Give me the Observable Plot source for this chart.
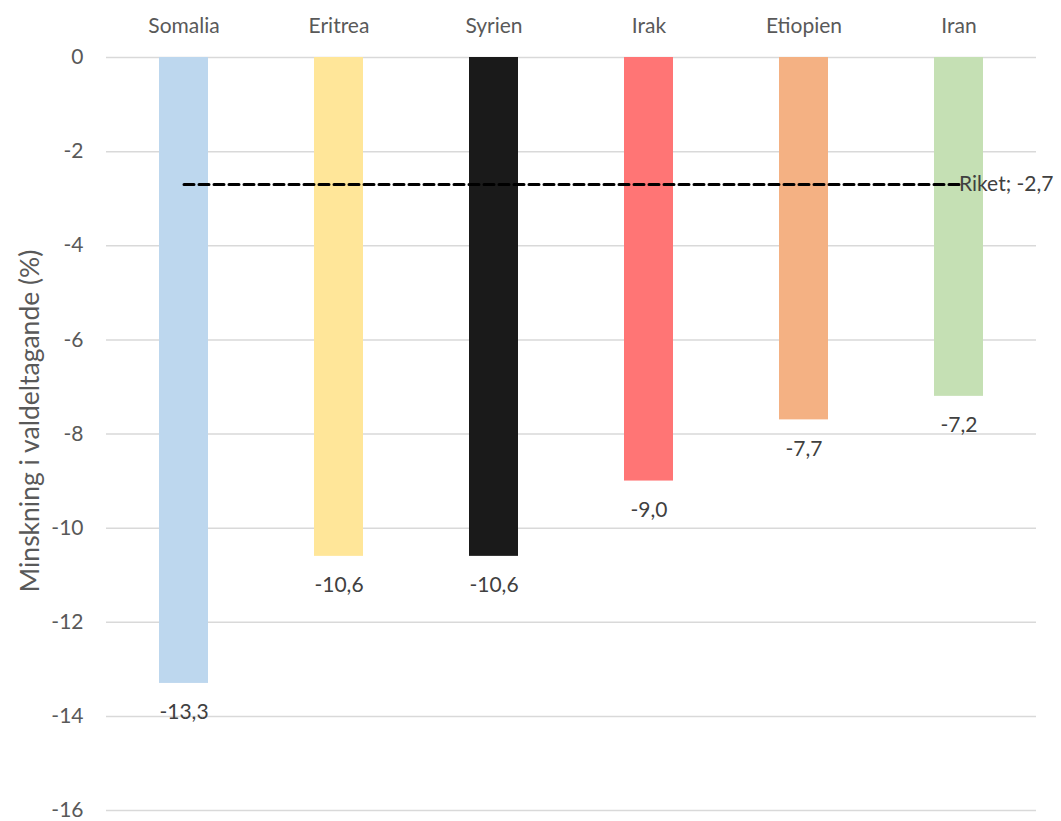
<!DOCTYPE html>
<html>
<head>
<meta charset="utf-8">
<script src="https://cdn.jsdelivr.net/npm/d3@7"></script>
<script src="https://cdn.jsdelivr.net/npm/@observablehq/plot@0.6"></script>
<style>
  html, body { margin: 0; padding: 0; background: #ffffff; }
  #chart svg { display: block; }
  #chart g[aria-label="y-axis label"] text { font-size: 26.5px; }
</style>
</head>
<body>
<div id="chart"></div>
<script>
const countries = ["Somalia", "Eritrea", "Syrien", "Irak", "Etiopien", "Iran"];
const values = [-13.3, -10.6, -10.6, -9.0, -7.7, -7.2];
const colors = ["#BDD7EE", "#FFE699", "#1a1a1a", "#FF7575", "#F4B183", "#C5E0B4"];
const riketLabel = "Riket";
const riketValue = -2.7;
const yTicks = [0, -2, -4, -6, -8, -10, -12, -14, -16];
const yLabel = "Minskning i valdeltagande (%)";

const fmt = v => v.toFixed(1).replace(".", ",");
const bars = countries.map((c, i) => ({country: c, value: values[i]}));
const riketLine = countries.map(c => ({country: c, value: riketValue}));
const riketText = [{country: countries[countries.length - 1], value: riketValue}];

const font = "Lato, 'Open Sans', sans-serif";
const fs = 21;

const chart = Plot.plot({
  width: 1061,
  height: 821,
  marginLeft: 106,
  marginRight: 25,
  marginTop: 57,
  marginBottom: 11,
  style: {fontFamily: font, fontSize: fs + "px", color: "#595959", background: "#ffffff"},
  x: {domain: countries, paddingInner: 0.684, paddingOuter: 0.342, align: 0.5},
  y: {domain: [-16, 0]},
  color: {domain: countries, range: colors},
  marks: [
    Plot.gridY(yTicks, {stroke: "#d9d9d9", strokeOpacity: 1, strokeWidth: 1.5}),
    Plot.barY(bars, {x: "country", y: "value", fill: "country"}),
    Plot.text(bars, {x: "country", y: "value", text: d => fmt(d.value), dy: 29, fill: "#404040", fontSize: fs}),
    Plot.lineY(riketLine, {x: "country", y: "value", stroke: "#000000", strokeWidth: 3, strokeDasharray: "10,5"}),
    Plot.text(riketText, {x: "country", y: "value", text: d => `${riketLabel}; ${fmt(d.value)}`, textAnchor: "start", dx: 0, fill: "#404040", fontSize: fs}),
    Plot.axisX({anchor: "top", tickSize: 0, tickPadding: 25, label: null, fill: "#595959", fontSize: fs}),
    Plot.axisY({ticks: yTicks, tickSize: 0, tickPadding: 23, tickFormat: d => String(d), label: yLabel, labelAnchor: "center", labelArrow: false, labelOffset: 86, fill: "#595959", fontSize: fs})
  ]
});
document.getElementById("chart").appendChild(chart);
const lab = d3.select(chart).select('g[aria-label="y-axis label"]');
lab.attr("transform", (lab.attr("transform") || "") + " translate(0,-13)");
</script>
</body>
</html>
